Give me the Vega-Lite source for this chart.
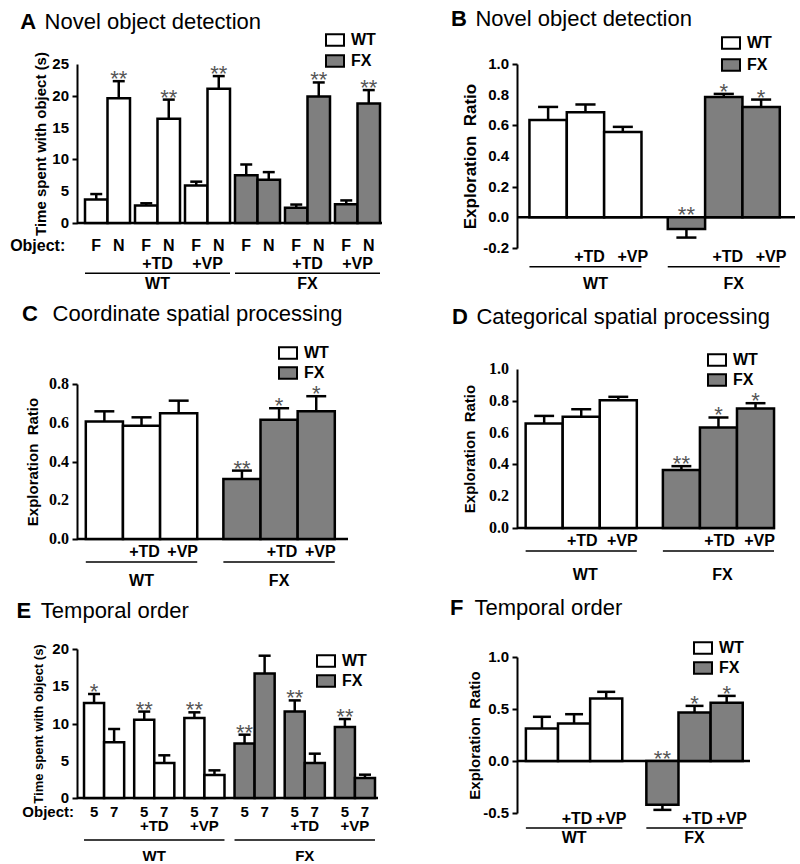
{
  "$schema": "https://vega.github.io/schema/vega-lite/v6.json",
  "background": "white",
  "padding": {"left": 10, "top": 8, "right": 0, "bottom": 0},
  "config": {
    "font": "Liberation Sans",
    "view": {"stroke": null},
    "axis": {"domainColor": "black", "domainWidth": 2, "tickColor": "black", "tickWidth": 2, "tickSize": 5, "labels": false, "titleColor": "black", "titleFontWeight": "bold", "titleFontSize": 15, "grid": false},
    "legend": {"title": null, "symbolType": "M-1,-0.65H1V0.65H-1Z", "symbolSize": 324, "symbolStrokeColor": "black", "symbolStrokeWidth": 2, "labelFontSize": 16, "labelFontWeight": "bold", "labelColor": "black", "rowPadding": 1, "labelOffset": 6, "padding": 0},
    "title": {"fontSize": 22, "fontWeight": "bold", "color": "black", "subtitleFontSize": 22, "subtitleFontWeight": "normal", "subtitleColor": "black", "subtitleFont": "Liberation Sans", "anchor": "start", "frame": "bounds", "subtitlePadding": -22}
  },
  "datasets": {
    "a": [
      {"pair": "WT", "obj": "F", "geno": "WT", "value": 3.7, "errEnd": 4.55, "star": ""},
      {"pair": "WT", "obj": "N", "geno": "WT", "value": 19.6, "errEnd": 22.3, "star": "**"},
      {"pair": "WT+TD", "obj": "F", "geno": "WT", "value": 2.75, "errEnd": 3.1, "star": ""},
      {"pair": "WT+TD", "obj": "N", "geno": "WT", "value": 16.4, "errEnd": 19.4, "star": "**"},
      {"pair": "WT+VP", "obj": "F", "geno": "WT", "value": 5.9, "errEnd": 6.5, "star": ""},
      {"pair": "WT+VP", "obj": "N", "geno": "WT", "value": 21.1, "errEnd": 23.1, "star": "**"},
      {"pair": "FX", "obj": "F", "geno": "FX", "value": 7.5, "errEnd": 9.2, "star": ""},
      {"pair": "FX", "obj": "N", "geno": "FX", "value": 6.8, "errEnd": 8.0, "star": ""},
      {"pair": "FX+TD", "obj": "F", "geno": "FX", "value": 2.4, "errEnd": 2.9, "star": ""},
      {"pair": "FX+TD", "obj": "N", "geno": "FX", "value": 19.9, "errEnd": 22.1, "star": "**"},
      {"pair": "FX+VP", "obj": "F", "geno": "FX", "value": 2.95, "errEnd": 3.55, "star": ""},
      {"pair": "FX+VP", "obj": "N", "geno": "FX", "value": 18.8, "errEnd": 20.9, "star": "**"}
    ],
    "e": [
      {"pair": "WT", "obj": "5", "geno": "WT", "value": 12.75, "errEnd": 13.96, "star": "*"},
      {"pair": "WT", "obj": "7", "geno": "WT", "value": 7.47, "errEnd": 9.26, "star": ""},
      {"pair": "WT+TD", "obj": "5", "geno": "WT", "value": 10.5, "errEnd": 11.6, "star": "**"},
      {"pair": "WT+TD", "obj": "7", "geno": "WT", "value": 4.7, "errEnd": 5.73, "star": ""},
      {"pair": "WT+VP", "obj": "5", "geno": "WT", "value": 10.74, "errEnd": 11.5, "star": "**"},
      {"pair": "WT+VP", "obj": "7", "geno": "WT", "value": 3.09, "errEnd": 3.71, "star": ""},
      {"pair": "FX", "obj": "5", "geno": "FX", "value": 7.3, "errEnd": 8.5, "star": "**"},
      {"pair": "FX", "obj": "7", "geno": "FX", "value": 16.7, "errEnd": 19.1, "star": ""},
      {"pair": "FX+TD", "obj": "5", "geno": "FX", "value": 11.6, "errEnd": 13.1, "star": "**"},
      {"pair": "FX+TD", "obj": "7", "geno": "FX", "value": 4.7, "errEnd": 5.95, "star": ""},
      {"pair": "FX+VP", "obj": "5", "geno": "FX", "value": 9.53, "errEnd": 10.6, "star": "**"},
      {"pair": "FX+VP", "obj": "7", "geno": "FX", "value": 2.68, "errEnd": 3.13, "star": ""}
    ],
    "b": [
      {"grp": "WT", "drug": "none", "geno": "WT", "value": 0.634, "errEnd": 0.72, "star": ""},
      {"grp": "WT", "drug": "+TD", "geno": "WT", "value": 0.686, "errEnd": 0.736, "star": ""},
      {"grp": "WT", "drug": "+VP", "geno": "WT", "value": 0.556, "errEnd": 0.59, "star": ""},
      {"grp": "FX", "drug": "none", "geno": "FX", "value": -0.076, "errEnd": -0.132, "star": "**"},
      {"grp": "FX", "drug": "+TD", "geno": "FX", "value": 0.784, "errEnd": 0.805, "star": "*"},
      {"grp": "FX", "drug": "+VP", "geno": "FX", "value": 0.719, "errEnd": 0.768, "star": "*"}
    ],
    "c": [
      {"grp": "WT", "drug": "none", "geno": "WT", "value": 0.606, "errEnd": 0.659, "star": ""},
      {"grp": "WT", "drug": "+TD", "geno": "WT", "value": 0.585, "errEnd": 0.628, "star": ""},
      {"grp": "WT", "drug": "+VP", "geno": "WT", "value": 0.649, "errEnd": 0.714, "star": ""},
      {"grp": "FX", "drug": "none", "geno": "FX", "value": 0.31, "errEnd": 0.353, "star": "**"},
      {"grp": "FX", "drug": "+TD", "geno": "FX", "value": 0.616, "errEnd": 0.675, "star": "*"},
      {"grp": "FX", "drug": "+VP", "geno": "FX", "value": 0.659, "errEnd": 0.737, "star": "*"}
    ],
    "d": [
      {"grp": "WT", "drug": "none", "geno": "WT", "value": 0.657, "errEnd": 0.705, "star": ""},
      {"grp": "WT", "drug": "+TD", "geno": "WT", "value": 0.70, "errEnd": 0.747, "star": ""},
      {"grp": "WT", "drug": "+VP", "geno": "WT", "value": 0.804, "errEnd": 0.825, "star": ""},
      {"grp": "FX", "drug": "none", "geno": "FX", "value": 0.364, "errEnd": 0.389, "star": "**"},
      {"grp": "FX", "drug": "+TD", "geno": "FX", "value": 0.632, "errEnd": 0.695, "star": "*"},
      {"grp": "FX", "drug": "+VP", "geno": "FX", "value": 0.752, "errEnd": 0.785, "star": "*"}
    ],
    "f": [
      {"grp": "WT", "drug": "none", "geno": "WT", "value": 0.313, "errEnd": 0.425, "star": ""},
      {"grp": "WT", "drug": "+TD", "geno": "WT", "value": 0.361, "errEnd": 0.45, "star": ""},
      {"grp": "WT", "drug": "+VP", "geno": "WT", "value": 0.60, "errEnd": 0.665, "star": ""},
      {"grp": "FX", "drug": "none", "geno": "FX", "value": -0.42, "errEnd": -0.47, "star": "**"},
      {"grp": "FX", "drug": "+TD", "geno": "FX", "value": 0.466, "errEnd": 0.53, "star": "*"},
      {"grp": "FX", "drug": "+VP", "geno": "FX", "value": 0.559, "errEnd": 0.626, "star": "*"}
    ],
    "tA": [{"v": 0, "t": "0"}, {"v": 5, "t": "5"}, {"v": 10, "t": "10"}, {"v": 15, "t": "15"}, {"v": 20, "t": "20"}, {"v": 25, "t": "25"}],
    "tB": [{"v": -0.2, "t": "-0.2"}, {"v": 0, "t": "0.0"}, {"v": 0.2, "t": "0.2"}, {"v": 0.4, "t": "0.4"}, {"v": 0.6, "t": "0.6"}, {"v": 0.8, "t": "0.8"}, {"v": 1.0, "t": "1.0"}],
    "tC": [{"v": 0, "t": "0.0"}, {"v": 0.2, "t": "0.2"}, {"v": 0.4, "t": "0.4"}, {"v": 0.6, "t": "0.6"}, {"v": 0.8, "t": "0.8"}],
    "tD": [{"v": 0, "t": "0.0"}, {"v": 0.2, "t": "0.2"}, {"v": 0.4, "t": "0.4"}, {"v": 0.6, "t": "0.6"}, {"v": 0.8, "t": "0.8"}, {"v": 1.0, "t": "1.0"}],
    "tE": [{"v": 0, "t": "0"}, {"v": 5, "t": "5"}, {"v": 10, "t": "10"}, {"v": 15, "t": "15"}, {"v": 20, "t": "20"}],
    "tF": [{"v": -0.5, "t": "-0.5"}, {"v": 0, "t": "0.0"}, {"v": 0.5, "t": "0.5"}, {"v": 1.0, "t": "1.0"}],
    "pairLabels": [
      {"pair": "WT+TD", "label": "+TD"}, {"pair": "WT+VP", "label": "+VP"},
      {"pair": "FX+TD", "label": "+TD"}, {"pair": "FX+VP", "label": "+VP"}
    ],
    "pairGroups": [
      {"from": "WT", "to": "WT+VP", "mid": "WT+TD", "label": "WT"},
      {"from": "FX", "to": "FX+VP", "mid": "FX+TD", "label": "FX"}
    ],
    "objRow": [{"pair": "WT", "label": "Object:"}],
    "groups": [{"grp": "WT"}, {"grp": "FX"}],
    "one": [{}]
  },
  "spacing": 66,
  "resolve": {"scale": {"fill": "independent"}, "legend": {"fill": "independent"}},
  "hconcat": [
    {
      "spacing": 10,
      "resolve": {"scale": {"fill": "independent"}, "legend": {"fill": "independent"}},
      "vconcat": [
        {
          "width": 305, "height": 159,
          "title": {"text": "A", "subtitle": "\u200b\u00a0\u00a0\u00a0\u00a0Novel object detection", "dx": 10, "offset": -4},
          "layer": [
            {"data": {"name": "one"}, "mark": {"type": "rule", "color": "black", "strokeWidth": 2.5},
             "encoding": {"y": {"datum": 0, "type": "quantitative", "scale": {"domain": [0, 25], "nice": false, "zero": false}, "axis": {"values": [0, 5, 10, 15, 20, 25], "title": "Time spent with object (s)", "titleX": -29}}}},
            {"data": {"name": "a"}, "transform": [{"filter": "datum.obj == 'F'"}],
             "encoding": {"x": {"field": "pair", "type": "nominal", "bandPosition": 0.25}},
             "layer": [
               {"mark": {"type": "bar", "stroke": "black", "strokeWidth": 2.5},
                "encoding": {
                  "x": {"field": "pair", "type": "nominal", "bandPosition": 0, "scale": {"domain": ["WT", "WT+TD", "WT+VP", "FX", "FX+TD", "FX+VP"], "paddingInner": 0.1, "paddingOuter": 0.1, "align": 0.8}, "axis": null},
                  "x2": {"field": "pair", "bandPosition": 0.5},
                  "y": {"field": "value", "type": "quantitative"},
                  "y2": {"datum": 0},
                  "fill": {"field": "geno", "type": "nominal", "scale": {"domain": ["WT", "FX"], "range": ["#ffffff", "#7f7f7f"]}, "legend": {"orient": "none", "legendX": 248, "legendY": -34}}}},
               {"mark": {"type": "rule", "color": "black", "strokeWidth": 2.5}, "encoding": {"y": {"field": "value", "type": "quantitative"}, "y2": {"field": "errEnd"}}},
               {"mark": {"type": "rule", "color": "black", "strokeWidth": 2.5}, "encoding": {"x": {"field": "pair", "type": "nominal", "bandPosition": 0.117}, "x2": {"field": "pair", "bandPosition": 0.383}, "y": {"field": "errEnd", "type": "quantitative"}}},
               {"mark": {"type": "text", "fontSize": 16, "fontWeight": "bold", "baseline": "middle"}, "encoding": {"y": {"datum": -3.6, "type": "quantitative"}, "text": {"field": "obj"}}}
             ]},
            {"data": {"name": "a"}, "transform": [{"filter": "datum.obj == 'N'"}],
             "encoding": {"x": {"field": "pair", "type": "nominal", "bandPosition": 0.75}},
             "layer": [
               {"mark": {"type": "bar", "stroke": "black", "strokeWidth": 2.5},
                "encoding": {
                  "x": {"field": "pair", "type": "nominal", "bandPosition": 0.5},
                  "x2": {"field": "pair", "bandPosition": 1},
                  "y": {"field": "value", "type": "quantitative"},
                  "y2": {"datum": 0},
                  "fill": {"field": "geno", "type": "nominal", "scale": {"domain": ["WT", "FX"], "range": ["#ffffff", "#7f7f7f"]}, "legend": {"orient": "none", "legendX": 248, "legendY": -34}}}},
               {"mark": {"type": "rule", "color": "black", "strokeWidth": 2.5}, "encoding": {"y": {"field": "value", "type": "quantitative"}, "y2": {"field": "errEnd"}}},
               {"mark": {"type": "rule", "color": "black", "strokeWidth": 2.5}, "encoding": {"x": {"field": "pair", "type": "nominal", "bandPosition": 0.617}, "x2": {"field": "pair", "bandPosition": 0.883}, "y": {"field": "errEnd", "type": "quantitative"}}},
               {"transform": [{"filter": "datum.star != ''"}], "mark": {"type": "text", "fontSize": 22, "color": "#555", "baseline": "alphabetic", "dy": 5}, "encoding": {"y": {"field": "errEnd", "type": "quantitative"}, "text": {"field": "star"}}},
               {"mark": {"type": "text", "fontSize": 16, "fontWeight": "bold", "baseline": "middle"}, "encoding": {"y": {"datum": -3.6, "type": "quantitative"}, "text": {"field": "obj"}}}
             ]},
            {"data": {"name": "objRow"}, "mark": {"type": "text", "fontSize": 16, "fontWeight": "bold", "baseline": "middle", "align": "right", "dx": -31},
             "encoding": {"x": {"field": "pair", "type": "nominal", "bandPosition": 0.25}, "y": {"datum": -3.6, "type": "quantitative"}, "text": {"field": "label"}}},
            {"data": {"name": "pairLabels"}, "mark": {"type": "text", "fontSize": 16, "fontWeight": "bold", "baseline": "middle"},
             "encoding": {"x": {"field": "pair", "type": "nominal"}, "y": {"datum": -6.45, "type": "quantitative"}, "text": {"field": "label"}}},
            {"data": {"name": "pairGroups"}, "mark": {"type": "rule", "color": "black", "strokeWidth": 1.5},
             "encoding": {"x": {"field": "from", "type": "nominal", "bandPosition": 0}, "x2": {"field": "to", "bandPosition": 1}, "y": {"datum": -7.9, "type": "quantitative"}}},
            {"data": {"name": "pairGroups"}, "mark": {"type": "text", "fontSize": 16, "fontWeight": "bold", "baseline": "middle"},
             "encoding": {"x": {"field": "mid", "type": "nominal"}, "y": {"datum": -9.6, "type": "quantitative"}, "text": {"field": "label"}}},
            {"data": {"name": "tA"}, "mark": {"type": "text", "fontSize": 15, "fontWeight": "bold", "baseline": "middle", "align": "right", "dx": -8},
             "encoding": {"x": {"value": 0}, "y": {"field": "v", "type": "quantitative"}, "text": {"field": "t"}}}
          ]
        },
        {
          "width": 271, "height": 155,
          "title": {"text": "C", "subtitle": "\u200b\u00a0\u00a0\u00a0\u00a0\u00a0Coordinate spatial processing", "dx": -3, "offset": 17},
          "layer": [
            {"data": {"name": "one"}, "mark": {"type": "rule", "color": "black", "strokeWidth": 2.5},
             "encoding": {"y": {"datum": 0, "type": "quantitative", "scale": {"domain": [0, 0.8], "nice": false, "zero": false}, "axis": {"values": [0, 0.2, 0.4, 0.6, 0.8], "title": "Exploration\u00a0 Ratio", "titleX": -37}}}},
            {"data": {"name": "c"}, "transform": [{"filter": "datum.drug == 'none'"}],
             "encoding": {"x": {"field": "grp", "type": "nominal", "bandPosition": 0.16667}},
             "layer": [
               {"mark": {"type": "bar", "stroke": "black", "strokeWidth": 2.5},
                "encoding": {
                  "x": {"field": "grp", "type": "nominal", "bandPosition": 0, "scale": {"domain": ["WT", "FX"], "paddingInner": 0.19, "paddingOuter": 0.08, "align": 0.4}, "axis": null},
                  "x2": {"field": "grp", "bandPosition": 0.33333},
                  "y": {"field": "value", "type": "quantitative"},
                  "y2": {"datum": 0},
                  "fill": {"field": "geno", "type": "nominal", "scale": {"domain": ["WT", "FX"], "range": ["#ffffff", "#7f7f7f"]}, "legend": {"orient": "none", "legendX": 201, "legendY": -41, "rowPadding": -1}}}},
               {"mark": {"type": "rule", "color": "black", "strokeWidth": 2.5}, "encoding": {"y": {"field": "value", "type": "quantitative"}, "y2": {"field": "errEnd"}}},
               {"mark": {"type": "rule", "color": "black", "strokeWidth": 2.5}, "encoding": {"x": {"field": "grp", "type": "nominal", "bandPosition": 0.077}, "x2": {"field": "grp", "bandPosition": 0.256}, "y": {"field": "errEnd", "type": "quantitative"}}},
               {"transform": [{"filter": "datum.star != ''"}], "mark": {"type": "text", "fontSize": 22, "color": "#555", "baseline": "alphabetic", "dy": 5}, "encoding": {"y": {"field": "errEnd", "type": "quantitative"}, "text": {"field": "star"}}}
             ]},
            {"data": {"name": "c"}, "transform": [{"filter": "datum.drug == '+TD'"}],
             "encoding": {"x": {"field": "grp", "type": "nominal", "bandPosition": 0.5}},
             "layer": [
               {"mark": {"type": "bar", "stroke": "black", "strokeWidth": 2.5},
                "encoding": {
                  "x": {"field": "grp", "type": "nominal", "bandPosition": 0.33333},
                  "x2": {"field": "grp", "bandPosition": 0.66667},
                  "y": {"field": "value", "type": "quantitative"},
                  "y2": {"datum": 0},
                  "fill": {"field": "geno", "type": "nominal", "scale": {"domain": ["WT", "FX"], "range": ["#ffffff", "#7f7f7f"]}, "legend": {"orient": "none", "legendX": 201, "legendY": -41, "rowPadding": -1}}}},
               {"mark": {"type": "rule", "color": "black", "strokeWidth": 2.5}, "encoding": {"y": {"field": "value", "type": "quantitative"}, "y2": {"field": "errEnd"}}},
               {"mark": {"type": "rule", "color": "black", "strokeWidth": 2.5}, "encoding": {"x": {"field": "grp", "type": "nominal", "bandPosition": 0.41}, "x2": {"field": "grp", "bandPosition": 0.59}, "y": {"field": "errEnd", "type": "quantitative"}}},
               {"transform": [{"filter": "datum.star != ''"}], "mark": {"type": "text", "fontSize": 22, "color": "#555", "baseline": "alphabetic", "dy": 5}, "encoding": {"y": {"field": "errEnd", "type": "quantitative"}, "text": {"field": "star"}}},
               {"mark": {"type": "text", "fontSize": 16, "fontWeight": "bold", "baseline": "middle", "dx": 3}, "encoding": {"y": {"datum": -0.067, "type": "quantitative"}, "text": {"field": "drug"}}}
             ]},
            {"data": {"name": "c"}, "transform": [{"filter": "datum.drug == '+VP'"}],
             "encoding": {"x": {"field": "grp", "type": "nominal", "bandPosition": 0.83333}},
             "layer": [
               {"mark": {"type": "bar", "stroke": "black", "strokeWidth": 2.5},
                "encoding": {
                  "x": {"field": "grp", "type": "nominal", "bandPosition": 0.66667},
                  "x2": {"field": "grp", "bandPosition": 1},
                  "y": {"field": "value", "type": "quantitative"},
                  "y2": {"datum": 0},
                  "fill": {"field": "geno", "type": "nominal", "scale": {"domain": ["WT", "FX"], "range": ["#ffffff", "#7f7f7f"]}, "legend": {"orient": "none", "legendX": 201, "legendY": -41, "rowPadding": -1}}}},
               {"mark": {"type": "rule", "color": "black", "strokeWidth": 2.5}, "encoding": {"y": {"field": "value", "type": "quantitative"}, "y2": {"field": "errEnd"}}},
               {"mark": {"type": "rule", "color": "black", "strokeWidth": 2.5}, "encoding": {"x": {"field": "grp", "type": "nominal", "bandPosition": 0.744}, "x2": {"field": "grp", "bandPosition": 0.923}, "y": {"field": "errEnd", "type": "quantitative"}}},
               {"transform": [{"filter": "datum.star != ''"}], "mark": {"type": "text", "fontSize": 22, "color": "#555", "baseline": "alphabetic", "dy": 5}, "encoding": {"y": {"field": "errEnd", "type": "quantitative"}, "text": {"field": "star"}}},
               {"mark": {"type": "text", "fontSize": 16, "fontWeight": "bold", "baseline": "middle", "dx": 4}, "encoding": {"y": {"datum": -0.067, "type": "quantitative"}, "text": {"field": "drug"}}}
             ]},
            {"data": {"name": "groups"}, "mark": {"type": "rule", "color": "black", "strokeWidth": 1.5},
             "encoding": {"x": {"field": "grp", "type": "nominal", "bandPosition": 0}, "x2": {"field": "grp", "bandPosition": 1}, "y": {"datum": -0.119, "type": "quantitative"}}},
            {"data": {"name": "groups"}, "mark": {"type": "text", "fontSize": 16, "fontWeight": "bold", "baseline": "middle"},
             "encoding": {"x": {"field": "grp", "type": "nominal"}, "y": {"datum": -0.217, "type": "quantitative"}, "text": {"field": "grp"}}},
            {"data": {"name": "tC"}, "mark": {"type": "text", "font": "Liberation Serif", "fontSize": 16, "fontWeight": "bold", "baseline": "middle", "align": "right", "dx": -8},
             "encoding": {"x": {"value": 0}, "y": {"field": "v", "type": "quantitative"}, "text": {"field": "t"}}}
          ]
        },
        {
          "width": 301, "height": 149,
          "title": {"text": "E", "subtitle": "\u200b\u00a0\u00a0\u00a0\u00a0Temporal order", "dx": -6, "offset": 19},
          "layer": [
            {"data": {"name": "one"}, "mark": {"type": "rule", "color": "black", "strokeWidth": 2.5},
             "encoding": {"y": {"datum": 0, "type": "quantitative", "scale": {"domain": [0, 20], "nice": false, "zero": false}, "axis": {"values": [0, 5, 10, 15, 20], "title": "Time spent with object (s)", "titleFontSize": 13, "titleX": -32}}}},
            {"data": {"name": "e"}, "transform": [{"filter": "datum.obj == '5'"}],
             "encoding": {"x": {"field": "pair", "type": "nominal", "bandPosition": 0.25}},
             "layer": [
               {"mark": {"type": "bar", "stroke": "black", "strokeWidth": 2.5},
                "encoding": {
                  "x": {"field": "pair", "type": "nominal", "bandPosition": 0, "scale": {"domain": ["WT", "WT+TD", "WT+VP", "FX", "FX+TD", "FX+VP"], "paddingInner": 0.2, "paddingOuter": 0.1, "align": 0.7}, "axis": null},
                  "x2": {"field": "pair", "bandPosition": 0.5},
                  "y": {"field": "value", "type": "quantitative"},
                  "y2": {"datum": 0},
                  "fill": {"field": "geno", "type": "nominal", "scale": {"domain": ["WT", "FX"], "range": ["#ffffff", "#7f7f7f"]}, "legend": {"orient": "none", "legendX": 239, "legendY": 2, "rowPadding": -1}}}},
               {"mark": {"type": "rule", "color": "black", "strokeWidth": 2.5}, "encoding": {"y": {"field": "value", "type": "quantitative"}, "y2": {"field": "errEnd"}}},
               {"mark": {"type": "rule", "color": "black", "strokeWidth": 2.5}, "encoding": {"x": {"field": "pair", "type": "nominal", "bandPosition": 0.1}, "x2": {"field": "pair", "bandPosition": 0.4}, "y": {"field": "errEnd", "type": "quantitative"}}},
               {"transform": [{"filter": "datum.star != ''"}], "mark": {"type": "text", "fontSize": 22, "color": "#555", "baseline": "alphabetic", "dy": 5}, "encoding": {"y": {"field": "errEnd", "type": "quantitative"}, "text": {"field": "star"}}},
               {"mark": {"type": "text", "fontSize": 15, "fontWeight": "bold", "baseline": "middle"}, "encoding": {"y": {"datum": -1.88, "type": "quantitative"}, "text": {"field": "obj"}}}
             ]},
            {"data": {"name": "e"}, "transform": [{"filter": "datum.obj == '7'"}],
             "encoding": {"x": {"field": "pair", "type": "nominal", "bandPosition": 0.75}},
             "layer": [
               {"mark": {"type": "bar", "stroke": "black", "strokeWidth": 2.5},
                "encoding": {
                  "x": {"field": "pair", "type": "nominal", "bandPosition": 0.5},
                  "x2": {"field": "pair", "bandPosition": 1},
                  "y": {"field": "value", "type": "quantitative"},
                  "y2": {"datum": 0},
                  "fill": {"field": "geno", "type": "nominal", "scale": {"domain": ["WT", "FX"], "range": ["#ffffff", "#7f7f7f"]}, "legend": {"orient": "none", "legendX": 239, "legendY": 2, "rowPadding": -1}}}},
               {"mark": {"type": "rule", "color": "black", "strokeWidth": 2.5}, "encoding": {"y": {"field": "value", "type": "quantitative"}, "y2": {"field": "errEnd"}}},
               {"mark": {"type": "rule", "color": "black", "strokeWidth": 2.5}, "encoding": {"x": {"field": "pair", "type": "nominal", "bandPosition": 0.6}, "x2": {"field": "pair", "bandPosition": 0.9}, "y": {"field": "errEnd", "type": "quantitative"}}},
               {"mark": {"type": "text", "fontSize": 15, "fontWeight": "bold", "baseline": "middle"}, "encoding": {"y": {"datum": -1.88, "type": "quantitative"}, "text": {"field": "obj"}}}
             ]},
            {"data": {"name": "objRow"}, "mark": {"type": "text", "fontSize": 15, "fontWeight": "bold", "baseline": "middle", "align": "right", "dx": -20},
             "encoding": {"x": {"field": "pair", "type": "nominal", "bandPosition": 0.25}, "y": {"datum": -1.88, "type": "quantitative"}, "text": {"field": "label"}}},
            {"data": {"name": "pairLabels"}, "mark": {"type": "text", "fontSize": 15, "fontWeight": "bold", "baseline": "middle"},
             "encoding": {"x": {"field": "pair", "type": "nominal"}, "y": {"datum": -3.76, "type": "quantitative"}, "text": {"field": "label"}}},
            {"data": {"name": "pairGroups"}, "mark": {"type": "rule", "color": "black", "strokeWidth": 1.5},
             "encoding": {"x": {"field": "from", "type": "nominal", "bandPosition": 0}, "x2": {"field": "to", "bandPosition": 1}, "y": {"datum": -5.64, "type": "quantitative"}}},
            {"data": {"name": "pairGroups"}, "mark": {"type": "text", "fontSize": 15, "fontWeight": "bold", "baseline": "middle"},
             "encoding": {"x": {"field": "mid", "type": "nominal"}, "y": {"datum": -7.8, "type": "quantitative"}, "text": {"field": "label"}}},
            {"data": {"name": "tE"}, "mark": {"type": "text", "fontSize": 15, "fontWeight": "bold", "baseline": "middle", "align": "right", "dx": -8},
             "encoding": {"x": {"value": 0}, "y": {"field": "v", "type": "quantitative"}, "text": {"field": "t"}}}
          ]
        }
      ]
    },
    {
      "spacing": 14,
      "resolve": {"scale": {"fill": "independent"}, "legend": {"fill": "independent"}},
      "vconcat": [
        {
          "width": 278, "height": 184,
          "title": {"text": "B", "subtitle": "\u200b\u00a0\u00a0\u00a0\u00a0Novel object detection", "dx": -10, "offset": 2},
          "layer": [
            {"data": {"name": "one"}, "mark": {"type": "rule", "color": "black", "strokeWidth": 2.5},
             "encoding": {"y": {"datum": 0, "type": "quantitative", "scale": {"domain": [-0.2, 1.0], "nice": false, "zero": false}, "axis": {"values": [-0.2, 0, 0.2, 0.4, 0.6, 0.8, 1.0], "title": "Exploration\u00a0 Ratio", "titleFontSize": 17, "titleX": -38}}}},
            {"data": {"name": "b"}, "transform": [{"filter": "datum.drug == 'none'"}],
             "encoding": {"x": {"field": "grp", "type": "nominal", "bandPosition": 0.16667}},
             "layer": [
               {"mark": {"type": "bar", "stroke": "black", "strokeWidth": 2.5},
                "encoding": {
                  "x": {"field": "grp", "type": "nominal", "bandPosition": 0, "scale": {"domain": ["WT", "FX"], "paddingInner": 0.19, "paddingOuter": 0.1, "align": 0.45}, "axis": null},
                  "x2": {"field": "grp", "bandPosition": 0.33333},
                  "y": {"field": "value", "type": "quantitative"},
                  "y2": {"datum": 0},
                  "fill": {"field": "geno", "type": "nominal", "scale": {"domain": ["WT", "FX"], "range": ["#ffffff", "#7f7f7f"]}, "legend": {"orient": "none", "legendX": 204, "legendY": -31, "rowPadding": 2}}}},
               {"mark": {"type": "rule", "color": "black", "strokeWidth": 2.5}, "encoding": {"y": {"field": "value", "type": "quantitative"}, "y2": {"field": "errEnd"}}},
               {"mark": {"type": "rule", "color": "black", "strokeWidth": 2.5}, "encoding": {"x": {"field": "grp", "type": "nominal", "bandPosition": 0.077}, "x2": {"field": "grp", "bandPosition": 0.256}, "y": {"field": "errEnd", "type": "quantitative"}}},
               {"transform": [{"filter": "datum.star != ''"}], "mark": {"type": "text", "fontSize": 22, "color": "#555", "baseline": "alphabetic", "dy": 5}, "encoding": {"y": {"datum": 0, "type": "quantitative"}, "text": {"field": "star"}}}
             ]},
            {"data": {"name": "b"}, "transform": [{"filter": "datum.drug == '+TD'"}],
             "encoding": {"x": {"field": "grp", "type": "nominal", "bandPosition": 0.5}},
             "layer": [
               {"mark": {"type": "bar", "stroke": "black", "strokeWidth": 2.5},
                "encoding": {
                  "x": {"field": "grp", "type": "nominal", "bandPosition": 0.33333},
                  "x2": {"field": "grp", "bandPosition": 0.66667},
                  "y": {"field": "value", "type": "quantitative"},
                  "y2": {"datum": 0},
                  "fill": {"field": "geno", "type": "nominal", "scale": {"domain": ["WT", "FX"], "range": ["#ffffff", "#7f7f7f"]}, "legend": {"orient": "none", "legendX": 204, "legendY": -31, "rowPadding": 2}}}},
               {"mark": {"type": "rule", "color": "black", "strokeWidth": 2.5}, "encoding": {"y": {"field": "value", "type": "quantitative"}, "y2": {"field": "errEnd"}}},
               {"mark": {"type": "rule", "color": "black", "strokeWidth": 2.5}, "encoding": {"x": {"field": "grp", "type": "nominal", "bandPosition": 0.41}, "x2": {"field": "grp", "bandPosition": 0.59}, "y": {"field": "errEnd", "type": "quantitative"}}},
               {"transform": [{"filter": "datum.star != ''"}], "mark": {"type": "text", "fontSize": 22, "color": "#555", "baseline": "alphabetic", "dy": 5}, "encoding": {"y": {"field": "errEnd", "type": "quantitative"}, "text": {"field": "star"}}},
               {"mark": {"type": "text", "fontSize": 16, "fontWeight": "bold", "baseline": "middle", "dx": 4}, "encoding": {"y": {"datum": -0.257, "type": "quantitative"}, "text": {"field": "drug"}}}
             ]},
            {"data": {"name": "b"}, "transform": [{"filter": "datum.drug == '+VP'"}],
             "encoding": {"x": {"field": "grp", "type": "nominal", "bandPosition": 0.83333}},
             "layer": [
               {"mark": {"type": "bar", "stroke": "black", "strokeWidth": 2.5},
                "encoding": {
                  "x": {"field": "grp", "type": "nominal", "bandPosition": 0.66667},
                  "x2": {"field": "grp", "bandPosition": 1},
                  "y": {"field": "value", "type": "quantitative"},
                  "y2": {"datum": 0},
                  "fill": {"field": "geno", "type": "nominal", "scale": {"domain": ["WT", "FX"], "range": ["#ffffff", "#7f7f7f"]}, "legend": {"orient": "none", "legendX": 204, "legendY": -31, "rowPadding": 2}}}},
               {"mark": {"type": "rule", "color": "black", "strokeWidth": 2.5}, "encoding": {"y": {"field": "value", "type": "quantitative"}, "y2": {"field": "errEnd"}}},
               {"mark": {"type": "rule", "color": "black", "strokeWidth": 2.5}, "encoding": {"x": {"field": "grp", "type": "nominal", "bandPosition": 0.744}, "x2": {"field": "grp", "bandPosition": 0.923}, "y": {"field": "errEnd", "type": "quantitative"}}},
               {"transform": [{"filter": "datum.star != ''"}], "mark": {"type": "text", "fontSize": 22, "color": "#555", "baseline": "alphabetic", "dy": 5}, "encoding": {"y": {"field": "errEnd", "type": "quantitative"}, "text": {"field": "star"}}},
               {"mark": {"type": "text", "fontSize": 16, "fontWeight": "bold", "baseline": "middle", "dx": 10}, "encoding": {"y": {"datum": -0.257, "type": "quantitative"}, "text": {"field": "drug"}}}
             ]},
            {"data": {"name": "groups"}, "mark": {"type": "rule", "color": "black", "strokeWidth": 1.5},
             "encoding": {"x": {"field": "grp", "type": "nominal", "bandPosition": 0}, "x2": {"field": "grp", "bandPosition": 1}, "y": {"datum": -0.322, "type": "quantitative"}}},
            {"data": {"name": "groups"}, "mark": {"type": "text", "fontSize": 16, "fontWeight": "bold", "baseline": "middle", "dx": 10},
             "encoding": {"x": {"field": "grp", "type": "nominal"}, "y": {"datum": -0.433, "type": "quantitative"}, "text": {"field": "grp"}}},
            {"data": {"name": "tB"}, "mark": {"type": "text", "fontSize": 15, "fontWeight": "bold", "baseline": "middle", "align": "right", "dx": -8},
             "encoding": {"x": {"value": 0}, "y": {"field": "v", "type": "quantitative"}, "text": {"field": "t"}}}
          ]
        },
        {
          "width": 258, "height": 159,
          "title": {"text": "D", "subtitle": "\u200b\u00a0\u00a0\u00a0\u00a0Categorical spatial processing", "dx": -10, "offset": 21},
          "layer": [
            {"data": {"name": "one"}, "mark": {"type": "rule", "color": "black", "strokeWidth": 2.5},
             "encoding": {"y": {"datum": 0, "type": "quantitative", "scale": {"domain": [0, 1.0], "nice": false, "zero": false}, "axis": {"values": [0, 0.2, 0.4, 0.6, 0.8, 1.0], "title": "Exploration\u00a0 Ratio", "titleX": -40}}}},
            {"data": {"name": "d"}, "transform": [{"filter": "datum.drug == 'none'"}],
             "encoding": {"x": {"field": "grp", "type": "nominal", "bandPosition": 0.16667}},
             "layer": [
               {"mark": {"type": "bar", "stroke": "black", "strokeWidth": 2.5},
                "encoding": {
                  "x": {"field": "grp", "type": "nominal", "bandPosition": 0, "scale": {"domain": ["WT", "FX"], "paddingInner": 0.19, "paddingOuter": 0.035, "align": 0.9}, "axis": null},
                  "x2": {"field": "grp", "bandPosition": 0.33333},
                  "y": {"field": "value", "type": "quantitative"},
                  "y2": {"datum": 0},
                  "fill": {"field": "geno", "type": "nominal", "scale": {"domain": ["WT", "FX"], "range": ["#ffffff", "#7f7f7f"]}, "legend": {"orient": "none", "legendX": 190, "legendY": -19, "rowPadding": 0}}}},
               {"mark": {"type": "rule", "color": "black", "strokeWidth": 2.5}, "encoding": {"y": {"field": "value", "type": "quantitative"}, "y2": {"field": "errEnd"}}},
               {"mark": {"type": "rule", "color": "black", "strokeWidth": 2.5}, "encoding": {"x": {"field": "grp", "type": "nominal", "bandPosition": 0.077}, "x2": {"field": "grp", "bandPosition": 0.256}, "y": {"field": "errEnd", "type": "quantitative"}}},
               {"transform": [{"filter": "datum.star != ''"}], "mark": {"type": "text", "fontSize": 22, "color": "#555", "baseline": "alphabetic", "dy": 5}, "encoding": {"y": {"field": "errEnd", "type": "quantitative"}, "text": {"field": "star"}}}
             ]},
            {"data": {"name": "d"}, "transform": [{"filter": "datum.drug == '+TD'"}],
             "encoding": {"x": {"field": "grp", "type": "nominal", "bandPosition": 0.5}},
             "layer": [
               {"mark": {"type": "bar", "stroke": "black", "strokeWidth": 2.5},
                "encoding": {
                  "x": {"field": "grp", "type": "nominal", "bandPosition": 0.33333},
                  "x2": {"field": "grp", "bandPosition": 0.66667},
                  "y": {"field": "value", "type": "quantitative"},
                  "y2": {"datum": 0},
                  "fill": {"field": "geno", "type": "nominal", "scale": {"domain": ["WT", "FX"], "range": ["#ffffff", "#7f7f7f"]}, "legend": {"orient": "none", "legendX": 190, "legendY": -19, "rowPadding": 0}}}},
               {"mark": {"type": "rule", "color": "black", "strokeWidth": 2.5}, "encoding": {"y": {"field": "value", "type": "quantitative"}, "y2": {"field": "errEnd"}}},
               {"mark": {"type": "rule", "color": "black", "strokeWidth": 2.5}, "encoding": {"x": {"field": "grp", "type": "nominal", "bandPosition": 0.41}, "x2": {"field": "grp", "bandPosition": 0.59}, "y": {"field": "errEnd", "type": "quantitative"}}},
               {"transform": [{"filter": "datum.star != ''"}], "mark": {"type": "text", "fontSize": 22, "color": "#555", "baseline": "alphabetic", "dy": 5}, "encoding": {"y": {"field": "errEnd", "type": "quantitative"}, "text": {"field": "star"}}},
               {"mark": {"type": "text", "fontSize": 16, "fontWeight": "bold", "baseline": "middle", "dx": 1}, "encoding": {"y": {"datum": -0.082, "type": "quantitative"}, "text": {"field": "drug"}}}
             ]},
            {"data": {"name": "d"}, "transform": [{"filter": "datum.drug == '+VP'"}],
             "encoding": {"x": {"field": "grp", "type": "nominal", "bandPosition": 0.83333}},
             "layer": [
               {"mark": {"type": "bar", "stroke": "black", "strokeWidth": 2.5},
                "encoding": {
                  "x": {"field": "grp", "type": "nominal", "bandPosition": 0.66667},
                  "x2": {"field": "grp", "bandPosition": 1},
                  "y": {"field": "value", "type": "quantitative"},
                  "y2": {"datum": 0},
                  "fill": {"field": "geno", "type": "nominal", "scale": {"domain": ["WT", "FX"], "range": ["#ffffff", "#7f7f7f"]}, "legend": {"orient": "none", "legendX": 190, "legendY": -19, "rowPadding": 0}}}},
               {"mark": {"type": "rule", "color": "black", "strokeWidth": 2.5}, "encoding": {"y": {"field": "value", "type": "quantitative"}, "y2": {"field": "errEnd"}}},
               {"mark": {"type": "rule", "color": "black", "strokeWidth": 2.5}, "encoding": {"x": {"field": "grp", "type": "nominal", "bandPosition": 0.744}, "x2": {"field": "grp", "bandPosition": 0.923}, "y": {"field": "errEnd", "type": "quantitative"}}},
               {"transform": [{"filter": "datum.star != ''"}], "mark": {"type": "text", "fontSize": 22, "color": "#555", "baseline": "alphabetic", "dy": 5}, "encoding": {"y": {"field": "errEnd", "type": "quantitative"}, "text": {"field": "star"}}},
               {"mark": {"type": "text", "fontSize": 16, "fontWeight": "bold", "baseline": "middle", "dx": 4}, "encoding": {"y": {"datum": -0.082, "type": "quantitative"}, "text": {"field": "drug"}}}
             ]},
            {"data": {"name": "groups"}, "mark": {"type": "rule", "color": "black", "strokeWidth": 1.5},
             "encoding": {"x": {"field": "grp", "type": "nominal", "bandPosition": 0}, "x2": {"field": "grp", "bandPosition": 1}, "y": {"datum": -0.145, "type": "quantitative"}}},
            {"data": {"name": "groups"}, "mark": {"type": "text", "fontSize": 16, "fontWeight": "bold", "baseline": "middle", "dx": 4},
             "encoding": {"x": {"field": "grp", "type": "nominal"}, "y": {"datum": -0.293, "type": "quantitative"}, "text": {"field": "grp"}}},
            {"data": {"name": "tD"}, "mark": {"type": "text", "font": "Liberation Serif", "fontSize": 16, "fontWeight": "bold", "baseline": "middle", "align": "right", "dx": -8},
             "encoding": {"x": {"value": 0}, "y": {"field": "v", "type": "quantitative"}, "text": {"field": "t"}}}
          ]
        },
        {
          "width": 233, "height": 156,
          "title": {"text": "F", "subtitle": "\u200b\u00a0\u00a0\u00a0\u00a0Temporal order", "dx": -17, "offset": 18},
          "layer": [
            {"data": {"name": "one"}, "mark": {"type": "rule", "color": "black", "strokeWidth": 2.5},
             "encoding": {"y": {"datum": 0, "type": "quantitative", "scale": {"domain": [-0.5, 1.0], "nice": false, "zero": false}, "axis": {"values": [-0.5, 0, 0.5, 1.0], "title": "Exploration\u00a0 Ratio", "titleX": -35}}}},
            {"data": {"name": "f"}, "transform": [{"filter": "datum.drug == 'none'"}],
             "encoding": {"x": {"field": "grp", "type": "nominal", "bandPosition": 0.16667}},
             "layer": [
               {"mark": {"type": "bar", "stroke": "black", "strokeWidth": 2.5},
                "encoding": {
                  "x": {"field": "grp", "type": "nominal", "bandPosition": 0, "scale": {"domain": ["WT", "FX"], "paddingInner": 0.2, "paddingOuter": 0.067, "align": 0.55}, "axis": null},
                  "x2": {"field": "grp", "bandPosition": 0.33333},
                  "y": {"field": "value", "type": "quantitative"},
                  "y2": {"datum": 0},
                  "fill": {"field": "geno", "type": "nominal", "scale": {"domain": ["WT", "FX"], "range": ["#ffffff", "#7f7f7f"]}, "legend": {"orient": "none", "legendX": 176, "legendY": -19, "rowPadding": 0}}}},
               {"mark": {"type": "rule", "color": "black", "strokeWidth": 2.5}, "encoding": {"y": {"field": "value", "type": "quantitative"}, "y2": {"field": "errEnd"}}},
               {"mark": {"type": "rule", "color": "black", "strokeWidth": 2.5}, "encoding": {"x": {"field": "grp", "type": "nominal", "bandPosition": 0.073}, "x2": {"field": "grp", "bandPosition": 0.26}, "y": {"field": "errEnd", "type": "quantitative"}}},
               {"transform": [{"filter": "datum.star != ''"}], "mark": {"type": "text", "fontSize": 22, "color": "#555", "baseline": "alphabetic", "dy": 5}, "encoding": {"y": {"datum": 0, "type": "quantitative"}, "text": {"field": "star"}}}
             ]},
            {"data": {"name": "f"}, "transform": [{"filter": "datum.drug == '+TD'"}],
             "encoding": {"x": {"field": "grp", "type": "nominal", "bandPosition": 0.5}},
             "layer": [
               {"mark": {"type": "bar", "stroke": "black", "strokeWidth": 2.5},
                "encoding": {
                  "x": {"field": "grp", "type": "nominal", "bandPosition": 0.33333},
                  "x2": {"field": "grp", "bandPosition": 0.66667},
                  "y": {"field": "value", "type": "quantitative"},
                  "y2": {"datum": 0},
                  "fill": {"field": "geno", "type": "nominal", "scale": {"domain": ["WT", "FX"], "range": ["#ffffff", "#7f7f7f"]}, "legend": {"orient": "none", "legendX": 176, "legendY": -19, "rowPadding": 0}}}},
               {"mark": {"type": "rule", "color": "black", "strokeWidth": 2.5}, "encoding": {"y": {"field": "value", "type": "quantitative"}, "y2": {"field": "errEnd"}}},
               {"mark": {"type": "rule", "color": "black", "strokeWidth": 2.5}, "encoding": {"x": {"field": "grp", "type": "nominal", "bandPosition": 0.407}, "x2": {"field": "grp", "bandPosition": 0.593}, "y": {"field": "errEnd", "type": "quantitative"}}},
               {"transform": [{"filter": "datum.star != ''"}], "mark": {"type": "text", "fontSize": 22, "color": "#555", "baseline": "alphabetic", "dy": 5}, "encoding": {"y": {"field": "errEnd", "type": "quantitative"}, "text": {"field": "star"}}},
               {"mark": {"type": "text", "fontSize": 16, "fontWeight": "bold", "baseline": "middle", "dx": 3}, "encoding": {"y": {"datum": -0.558, "type": "quantitative"}, "text": {"field": "drug"}}}
             ]},
            {"data": {"name": "f"}, "transform": [{"filter": "datum.drug == '+VP'"}],
             "encoding": {"x": {"field": "grp", "type": "nominal", "bandPosition": 0.83333}},
             "layer": [
               {"mark": {"type": "bar", "stroke": "black", "strokeWidth": 2.5},
                "encoding": {
                  "x": {"field": "grp", "type": "nominal", "bandPosition": 0.66667},
                  "x2": {"field": "grp", "bandPosition": 1},
                  "y": {"field": "value", "type": "quantitative"},
                  "y2": {"datum": 0},
                  "fill": {"field": "geno", "type": "nominal", "scale": {"domain": ["WT", "FX"], "range": ["#ffffff", "#7f7f7f"]}, "legend": {"orient": "none", "legendX": 176, "legendY": -19, "rowPadding": 0}}}},
               {"mark": {"type": "rule", "color": "black", "strokeWidth": 2.5}, "encoding": {"y": {"field": "value", "type": "quantitative"}, "y2": {"field": "errEnd"}}},
               {"mark": {"type": "rule", "color": "black", "strokeWidth": 2.5}, "encoding": {"x": {"field": "grp", "type": "nominal", "bandPosition": 0.74}, "x2": {"field": "grp", "bandPosition": 0.927}, "y": {"field": "errEnd", "type": "quantitative"}}},
               {"transform": [{"filter": "datum.star != ''"}], "mark": {"type": "text", "fontSize": 22, "color": "#555", "baseline": "alphabetic", "dy": 5}, "encoding": {"y": {"field": "errEnd", "type": "quantitative"}, "text": {"field": "star"}}},
               {"mark": {"type": "text", "fontSize": 16, "fontWeight": "bold", "baseline": "middle", "dx": 5}, "encoding": {"y": {"datum": -0.558, "type": "quantitative"}, "text": {"field": "drug"}}}
             ]},
            {"data": {"name": "groups"}, "mark": {"type": "rule", "color": "black", "strokeWidth": 1.5},
             "encoding": {"x": {"field": "grp", "type": "nominal", "bandPosition": 0}, "x2": {"field": "grp", "bandPosition": 1}, "y": {"datum": -0.644, "type": "quantitative"}}},
            {"data": {"name": "groups"}, "mark": {"type": "text", "fontSize": 16, "fontWeight": "bold", "baseline": "middle"},
             "encoding": {"x": {"field": "grp", "type": "nominal"}, "y": {"datum": -0.74, "type": "quantitative"}, "text": {"field": "grp"}}},
            {"data": {"name": "tF"}, "mark": {"type": "text", "fontSize": 15, "fontWeight": "bold", "baseline": "middle", "align": "right", "dx": -8},
             "encoding": {"x": {"value": 0}, "y": {"field": "v", "type": "quantitative"}, "text": {"field": "t"}}}
          ]
        }
      ]
    }
  ]
}
